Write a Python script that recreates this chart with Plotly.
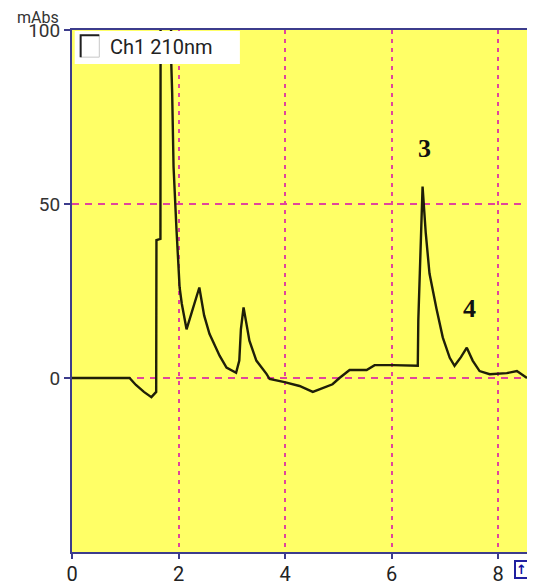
import plotly.graph_objects as go

# Chromatogram trace (retention time in min, absorbance in mAbs)
time_min = [0.0, 1.0, 1.08, 1.2, 1.35, 1.49, 1.55, 1.58, 1.585, 1.66, 1.665, 1.76, 1.855, 1.86, 1.88,
            1.906, 1.96, 2.02, 2.06, 2.15, 2.25, 2.39, 2.48, 2.58, 2.77, 2.9, 3.08, 3.14, 3.17,
            3.22, 3.33, 3.46, 3.65, 3.71, 3.99, 4.27, 4.52, 4.71, 4.89, 5.02, 5.21, 5.53, 5.68,
            6.02, 6.49, 6.5, 6.55, 6.58, 6.64, 6.71, 6.84, 6.96, 7.09, 7.18, 7.3, 7.41, 7.52,
            7.65, 7.84, 8.16, 8.35, 8.54]
absorbance = [0.0, 0.0, 0.0, -2.0, -4.0, -5.5, -4.6, -4.0, 39.6, 40.0, 150.0, 400.0, 150.0, 92.0, 82.0,
              60.7, 43.0, 26.0, 21.4, 14.0, 19.0, 26.0, 18.0, 12.7, 6.4, 3.0, 1.5, 5.0, 14.0,
              20.3, 10.7, 5.0, 1.2, -0.3, -1.2, -2.3, -4.0, -2.9, -1.8, 0.0, 2.3, 2.3, 3.7,
              3.7, 3.5, 16.5, 45.0, 55.0, 41.6, 30.0, 20.0, 11.6, 5.8, 3.5, 6.0, 8.7, 5.0,
              2.0, 1.1, 1.4, 2.0, 0.0]

peak_labels = ["3", "4"]
peak_label_x = [6.62, 7.46]
peak_label_y = [66, 20]

x_tick_vals = [0, 2, 4, 6, 8]
y_tick_vals = [0, 50, 100]
x_range = [0, 8.54]
y_range = [-50, 100]

channel_name = "Ch1 210nm"
y_unit = "mAbs"

AXIS = "#3c3c8c"
GRID = "#e0459c"
BG = "#ffff66"

fig = go.Figure()
fig.add_trace(go.Scatter(x=time_min, y=absorbance, mode="lines",
                         line=dict(color="#1f1f08", width=2.4), showlegend=False,
                         name=channel_name, hoverinfo="x+y"))

for t, xv, yv in zip(peak_labels, peak_label_x, peak_label_y):
    fig.add_annotation(x=xv, y=yv, text="<b>" + t + "</b>", showarrow=False,
                       font=dict(family="Liberation Serif", size=26, color="#111111"))

# legend-like box
fig.add_shape(type="rect", xref="paper", yref="paper", x0=0.006, x1=0.369, y0=0.935, y1=0.998,
              fillcolor="white", line=dict(width=0), layer="above")
fig.add_shape(type="rect", xref="paper", yref="paper", x0=0.019, x1=0.06, y0=0.948, y1=0.99,
              fillcolor="white", line=dict(color="#c8c8c8", width=1), layer="above")
fig.add_shape(type="path", xref="paper", yref="paper",
              path="M 0.019 0.948 L 0.019 0.99 L 0.06 0.99",
              line=dict(color="#202020", width=2), layer="above")
fig.add_annotation(xref="paper", yref="paper", x=0.08, y=0.967, xanchor="left", yanchor="middle",
                   text=channel_name, showarrow=False,
                   font=dict(family="Roboto", size=20, color="#222222"))

fig.add_annotation(xref="paper", yref="paper", x=-0.125, y=1.023, xanchor="left", yanchor="middle",
                   text=y_unit, showarrow=False,
                   font=dict(family="Roboto", size=16, color="#333333"))

# small arrow button at bottom right
fig.add_annotation(xref="paper", yref="paper", x=0.989, y=-0.034, xanchor="center", yanchor="middle",
                   text="<b>↑</b>", showarrow=False, bordercolor="#2020a0", borderwidth=2,
                   borderpad=0, bgcolor="white",
                   font=dict(family="DejaVu Sans", size=13, color="#1010a0"))

fig.update_layout(
    width=527, height=579,
    margin=dict(l=64, r=8, t=22, b=35, autoexpand=False),
    paper_bgcolor="white", plot_bgcolor=BG,
    showlegend=False,
    xaxis=dict(range=x_range, tickvals=x_tick_vals, showgrid=True, gridcolor=GRID, gridwidth=2,
               griddash="4px,5px", zeroline=False, showline=True, linecolor=AXIS, linewidth=2,
               mirror=True, ticks="outside", ticklen=5, tickwidth=2, tickcolor=AXIS, automargin=False,
               ticklabelstandoff=-2,
               tickfont=dict(family="Roboto", size=20, color="#222222")),
    yaxis=dict(range=y_range, tickvals=y_tick_vals, showgrid=True, gridcolor=GRID, gridwidth=2,
               griddash="7px,6px", zeroline=False, showline=True, linecolor=AXIS, linewidth=2,
               mirror=True, ticks="outside", ticklen=6, tickwidth=2, tickcolor=AXIS, automargin=False,
               tickfont=dict(family="Roboto", size=19, color="#333333")),
)

fig.write_html("out.html")
